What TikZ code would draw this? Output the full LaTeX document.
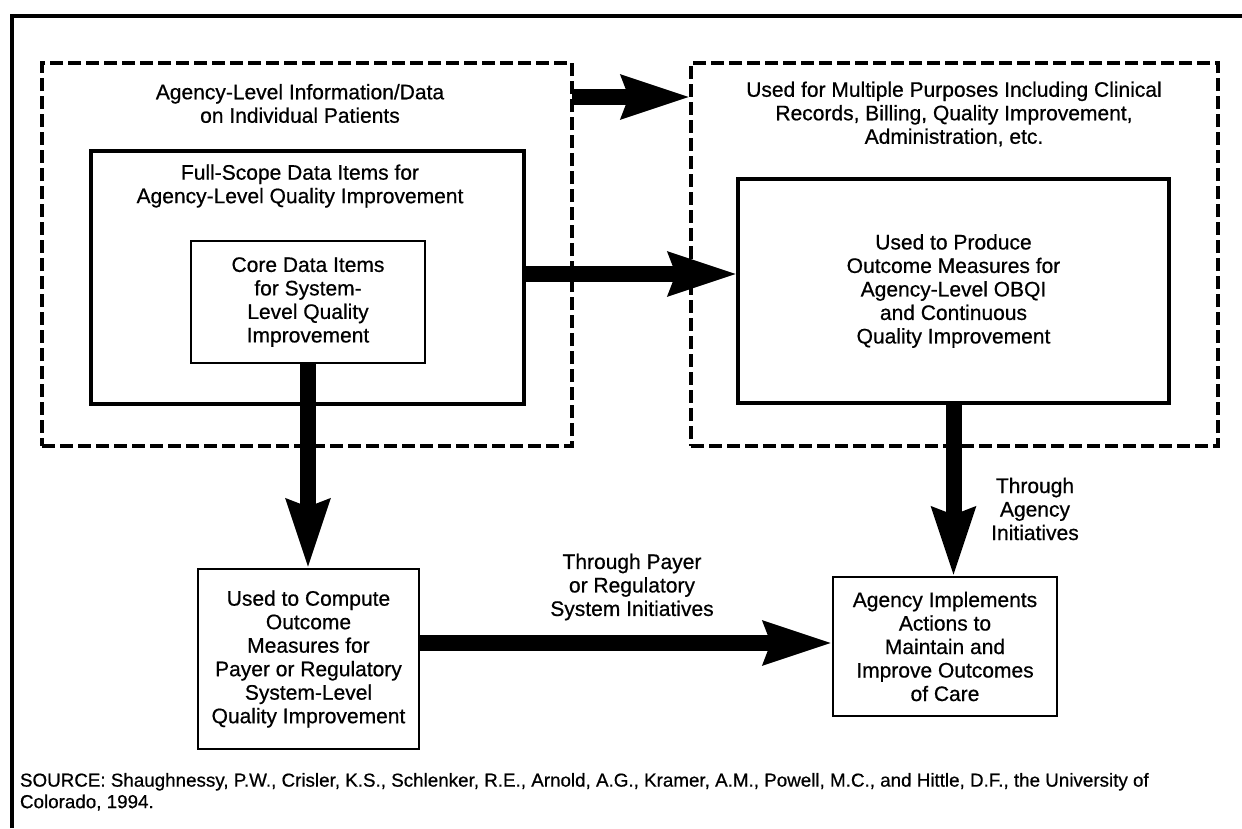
\documentclass[tikz,border=0pt]{standalone}
\usepackage{fontspec}
\setmainfont{Liberation Sans}
\newfontfamily\dfont{Liberation Sans}[FakeBold=0.6]
\usetikzlibrary{arrows.meta,calc}
\begin{document}
\begin{tikzpicture}[x=1pt,y=-1pt,
  every node/.style={inner sep=0pt, outer sep=0pt},
  txt/.style={align=center, font=\dfont\fontsize{21}{23.5}\selectfont},
  dbox/.style={draw, line width=3.8pt, dash pattern=on 13pt off 5pt},
  fat/.style={line width=16pt, -{Stealth[length=68pt,width=41pt,inset=6pt]}},
  frame/.style={line width=3.6pt},
]
\useasboundingbox (0,0) rectangle (1242,828);
\fill[white] (0,0) rectangle (1242,828);

% frame
\draw[frame] (12,828) -- (12,16) -- (1242,16);

% containers
\node[dbox, minimum width=530pt, minimum height=383pt] (L) at (307,254.5) {};
\node[dbox, minimum width=527pt, minimum height=383pt] (R) at (954.5,254.5) {};
\node[draw, line width=4pt, minimum width=433pt, minimum height=253pt] (FS) at (307.5,277.5) {};

\node[txt] (Llab) at (300,103.5) {Agency-Level Information/Data\\on Individual Patients};
\node[txt] (Rlab) at (954,114) {Used for Multiple Purposes Including Clinical\\Records, Billing, Quality Improvement,\\Administration, etc.};
\node[txt] (FSlab) at (300,186) {Full-Scope Data Items for\\Agency-Level Quality Improvement};

% boxes
\node[txt, draw, line width=2.2pt, minimum width=234pt, minimum height=122pt] (CO) at (308,302)
  {Core Data Items\\for System-\\Level Quality\\Improvement};
\node[txt, draw, line width=3.5pt, minimum width=431pt, minimum height=224pt] (RI) at (953.5,291)
  {Used to Produce\\Outcome Measures for\\Agency-Level OBQI\\and Continuous\\Quality Improvement};
\node[txt, draw, line width=2.7pt, minimum width=221pt, minimum height=180pt] (BL) at (308.5,659)
  {Used to Compute\\Outcome\\Measures for\\Payer or Regulatory\\System-Level\\Quality Improvement};
\node[txt, draw, line width=2.5pt, minimum width=224pt, minimum height=139pt] (AG) at (945,646.5)
  {Agency Implements\\Actions to\\Maintain and\\Improve Outcomes\\of Care};

% arrow labels
\node[txt] (lp) at (632,587) {Through Payer\\or Regulatory\\System Initiatives};
\node[txt] (la) at (1035,509) {Through\\Agency\\Initiatives};

% arrow levels
\coordinate (y1) at (0,97);
\coordinate (y2) at (0,274);
\coordinate (y4) at (0,643);

% arrows
\draw[fat] (L.east |- y1) -- (R.west |- y1);
\draw[fat] (FS.east |- y2) -- (RI.west |- y2);
\draw[fat] (CO.south) -- (CO.south |- BL.north);
\draw[fat] (RI.south) -- (RI.south |- AG.north);
\draw[fat] (BL.east |- y4) -- (AG.west |- y4);

% source
\node[anchor=north west, align=left, font=\dfont\fontsize{18.8}{21.5}\selectfont] (src) at (20,773)
  {SOURCE: Shaughnessy, P.W., Crisler, K.S., Schlenker, R.E., Arnold, A.G., Kramer, A.M., Powell, M.C., and Hittle, D.F., the University of\\Colorado, 1994.};
\end{tikzpicture}
\end{document}
